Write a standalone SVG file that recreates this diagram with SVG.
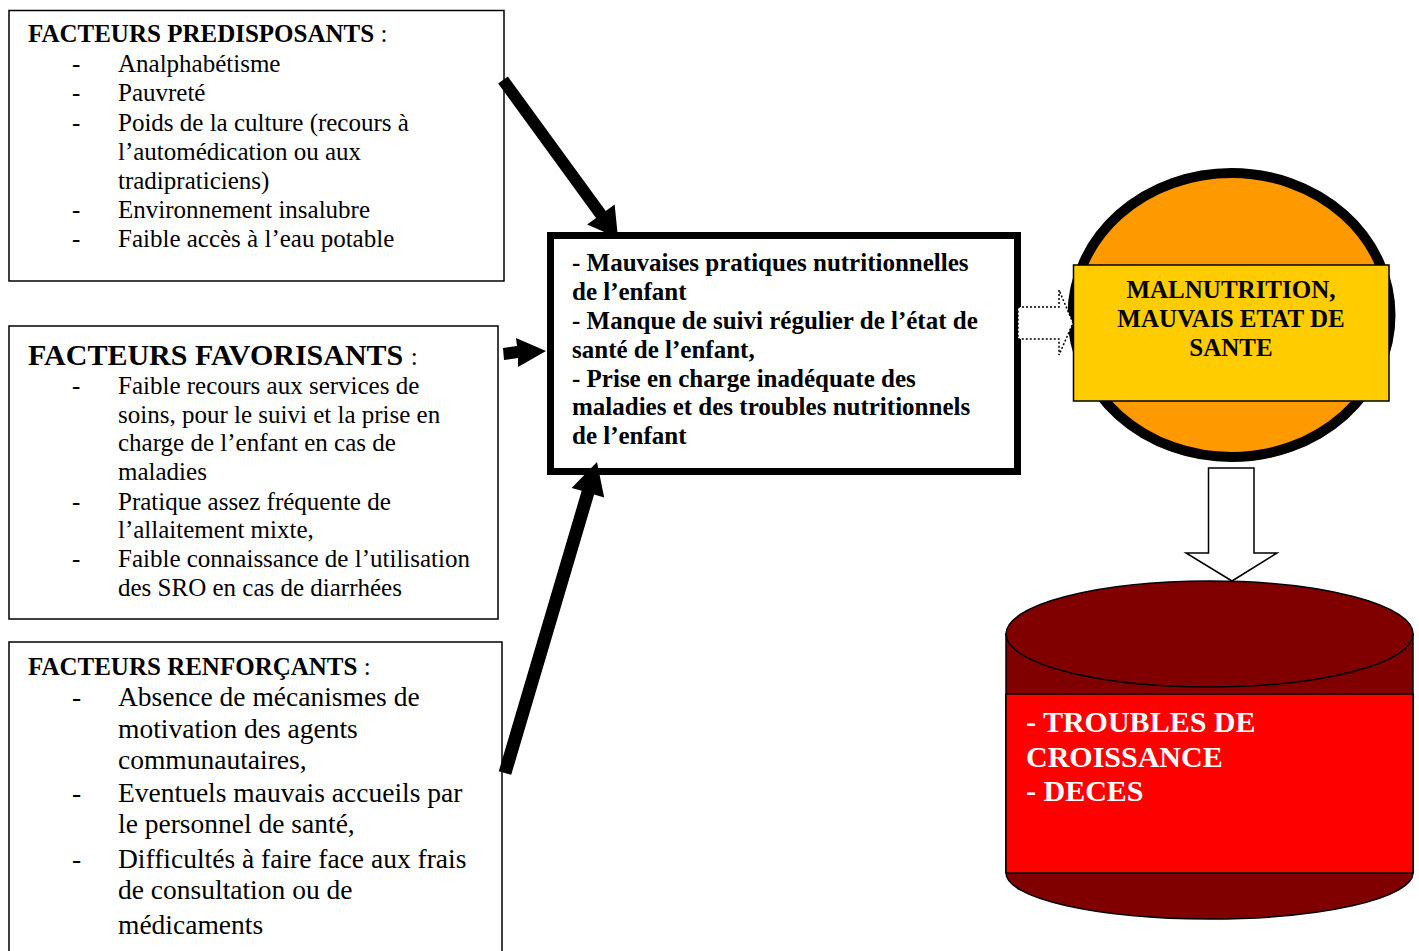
<svg xmlns="http://www.w3.org/2000/svg" width="1419" height="951" viewBox="0 0 1419 951">
<style>
text{font-family:"Liberation Serif","Times New Roman",serif;fill:#000}
.t{font-size:25px}
.b{font-weight:bold}
.n{font-weight:normal}
.big{font-size:27.5px}
.box{fill:#fff;stroke:#000;stroke-width:1.5}
.arr{fill:#000;stroke:none}
.w{fill:#fff}
</style>
<rect width="1419" height="951" fill="#fff"/>

<g id="predisposants">
<rect class="box" x="9" y="10.5" width="495" height="270.5"/>
<text class="t b" x="28" y="42">FACTEURS PREDISPOSANTS <tspan class="n">:</tspan></text>
<text class="t" x="72" y="72">-</text><text class="t" x="118" y="72">Analphabétisme</text>
<text class="t" x="72" y="101">-</text><text class="t" x="118" y="101">Pauvreté</text>
<text class="t" x="72" y="131">-</text><text class="t" x="118" y="131">Poids de la culture (recours à</text>
<text class="t" x="118" y="160">l’automédication ou aux</text>
<text class="t" x="118" y="189">tradipraticiens)</text>
<text class="t" x="72" y="218">-</text><text class="t" x="118" y="218">Environnement insalubre</text>
<text class="t" x="72" y="247">-</text><text class="t" x="118" y="247">Faible accès à l’eau potable</text>
</g>

<g id="favorisants">
<rect class="box" x="9" y="326" width="489" height="293"/>
<text class="b" x="28" y="365" style="font-size:30px">FACTEURS FAVORISANTS <tspan class="n" style="font-size:25px">:</tspan></text>
<text class="t" x="72" y="394">-</text><text class="t" x="118" y="394">Faible recours aux services de</text>
<text class="t" x="118" y="423">soins, pour le suivi et la prise en</text>
<text class="t" x="118" y="451">charge de l’enfant en cas de</text>
<text class="t" x="118" y="480">maladies</text>
<text class="t" x="72" y="510">-</text><text class="t" x="118" y="510">Pratique assez fréquente de</text>
<text class="t" x="118" y="538">l’allaitement mixte,</text>
<text class="t" x="72" y="567">-</text><text class="t" x="118" y="567">Faible connaissance de l’utilisation</text>
<text class="t" x="118" y="596">des SRO en cas de diarrhées</text>
</g>

<g id="renforcants">
<rect class="box" x="9" y="642" width="493" height="320"/>
<text class="t b" x="28" y="675">FACTEURS RENFORÇANTS <tspan class="n">:</tspan></text>
<text class="big" x="72" y="706">-</text><text class="big" x="118" y="706">Absence de mécanismes de</text>
<text class="big" x="118" y="738">motivation des agents</text>
<text class="big" x="118" y="769">communautaires,</text>
<text class="big" x="72" y="802">-</text><text class="big" x="118" y="802">Eventuels mauvais accueils par</text>
<text class="big" x="118" y="833">le personnel de santé,</text>
<text class="big" x="72" y="868">-</text><text class="big" x="118" y="868">Difficultés à faire face aux frais</text>
<text class="big" x="118" y="899">de consultation ou de</text>
<text class="big" x="118" y="934">médicaments</text>
</g>

<g id="pratiques">
<rect x="550.5" y="235.5" width="467" height="236" fill="#fff" stroke="#000" stroke-width="7"/>
<text class="t b" x="572" y="271">- Mauvaises pratiques nutritionnelles</text>
<text class="t b" x="572" y="300">de l’enfant</text>
<text class="t b" x="572" y="329">- Manque de suivi régulier de l’état de</text>
<text class="t b" x="572" y="358">santé de l’enfant,</text>
<text class="t b" x="572" y="387">- Prise en charge inadéquate des</text>
<text class="t b" x="572" y="415">maladies et des troubles nutritionnels</text>
<text class="t b" x="572" y="444">de l’enfant</text>
</g>

<g id="malnutrition">
<ellipse cx="1231.5" cy="315" rx="159" ry="142" fill="#FF9900" stroke="#000" stroke-width="10"/>
</g>

<g id="troubles">
<path d="M1006,634 V873 A203.5,46 0 0 0 1413,873 V634 Z" fill="#800000" stroke="#000" stroke-width="1.5"/>
<ellipse cx="1209.5" cy="634" rx="203.5" ry="53" fill="#800000" stroke="#000" stroke-width="1.5"/>
<rect x="1006" y="694" width="407" height="179" fill="#FF0000" stroke="#000" stroke-width="1.5"/>
<text class="b w" x="1026" y="732" style="font-size:30px;fill:#fff">- TROUBLES DE</text>
<text class="b w" x="1026" y="767" style="font-size:30px;fill:#fff">CROISSANCE</text>
<text class="b w" x="1026" y="801" style="font-size:30px;fill:#fff">- DECES</text>
</g>

<g id="connectors">
<polygon class="arr" points="507.85,76.47 605.75,210.97 614.65,204.5 618,238 587.15,224.5 596.05,218.03 498.15,83.53"/>
<polygon class="arr" points="503,348 517,346 516,338 546,351 518,367 518,358 504,360"/>
<polygon class="arr" points="498.77,771.16 581.67,490.86 571.6,487.9 597,462 604.2,497.5 594.13,494.54 511.23,774.84"/>
<polygon points="1018,307 1059,307 1059,290 1073,323 1059,355 1059,339 1018,339" fill="#fff" stroke="#000" stroke-width="1.5" stroke-dasharray="2 2"/>
<polygon points="1208.5,468 1254,468 1254,553 1277,553 1232,581 1186,553 1208.5,553" fill="#fff" stroke="#000" stroke-width="1.5"/>
</g>

<g id="malnutrition-label">
<rect x="1073.5" y="265" width="315.5" height="136" fill="#FFCC00" stroke="#000" stroke-width="1.5"/>
<text class="t b" x="1231" y="298" text-anchor="middle">MALNUTRITION,</text>
<text class="t b" x="1231" y="327" text-anchor="middle">MAUVAIS ETAT DE</text>
<text class="t b" x="1231" y="356" text-anchor="middle">SANTE</text>
</g>
</svg>
